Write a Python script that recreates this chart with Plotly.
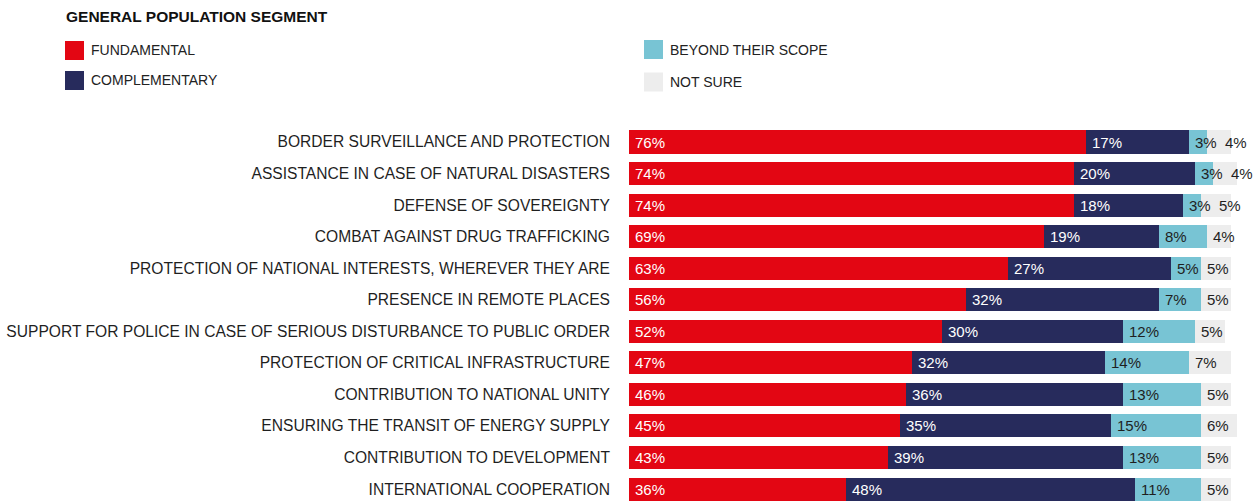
import plotly.graph_objects as go

# ---- data -------------------------------------------------------------
categories = [
    "BORDER SURVEILLANCE AND PROTECTION",
    "ASSISTANCE IN CASE OF NATURAL DISASTERS",
    "DEFENSE OF SOVEREIGNTY",
    "COMBAT AGAINST DRUG TRAFFICKING",
    "PROTECTION OF NATIONAL INTERESTS, WHEREVER THEY ARE",
    "PRESENCE IN REMOTE PLACES",
    "SUPPORT FOR POLICE IN CASE OF SERIOUS DISTURBANCE TO PUBLIC ORDER",
    "PROTECTION OF CRITICAL INFRASTRUCTURE",
    "CONTRIBUTION TO NATIONAL UNITY",
    "ENSURING THE TRANSIT OF ENERGY SUPPLY",
    "CONTRIBUTION TO DEVELOPMENT",
    "INTERNATIONAL COOPERATION",
]
fundamental = [76, 74, 74, 69, 63, 56, 52, 47, 46, 45, 43, 36]
complementary = [17, 20, 18, 19, 27, 32, 30, 32, 36, 35, 39, 48]
beyond_scope = [3, 3, 3, 8, 5, 7, 12, 14, 13, 15, 13, 11]
not_sure = [4, 4, 5, 4, 5, 5, 5, 7, 5, 6, 5, 5]

series_names = ["FUNDAMENTAL", "COMPLEMENTARY", "BEYOND THEIR SCOPE", "NOT SURE"]
series_values = [fundamental, complementary, beyond_scope, not_sure]
series_colors = ["#E30613", "#272B5C", "#78C4D4", "#EDEDED"]
label_colors = ["white", "white", "#1F1F1F", "#1F1F1F"]

title_text = "GENERAL POPULATION SEGMENT"

# ---- layout geometry --------------------------------------------------
W, H = 1255, 502
ML, MR, MT, MB = 629, 0, 126, 0
PLOT_W = W - ML - MR
PLOT_H = H - MT - MB
XMAX = 104.0
PX_PER_UNIT = PLOT_W / XMAX
ROW_PX = 31.55
Y_TOP = -16 / ROW_PX
Y_BOTTOM = Y_TOP + PLOT_H / ROW_PX

FONT = "Liberation Sans, Arial, sans-serif"
CAT_FS = 15.6
VAL_FS = 15
LEG_FS = 14
TEXT_PAD = 4
LABEL_GAP = 9


def px_x(px):
    return (px - ML) / PLOT_W


def px_y(py):
    return (H - MB - py) / PLOT_H


def text_width(s, fs=VAL_FS):
    w = 0.0
    for ch in s:
        w += 0.889 if ch == "%" else 0.556
    return w * fs


fig = go.Figure()

# stacked bars, value labels drawn as annotations so they can avoid collisions
for name, vals, color in zip(series_names, series_values, series_colors):
    fig.add_trace(go.Bar(
        y=categories, x=vals, name=name, orientation="h",
        marker=dict(color=color, line=dict(width=0)),
        hoverinfo="x+name", showlegend=False,
    ))

annotations = []
for i, cat in enumerate(categories):
    start = 0.0
    prev_end_px = -1e9
    for vals, tcolor in zip(series_values, label_colors):
        v = vals[i]
        label = f"{v}%"
        seg_px = start * PX_PER_UNIT
        pos_px = max(seg_px + TEXT_PAD, prev_end_px + LABEL_GAP)
        annotations.append(dict(
            x=start, y=cat, xref="x", yref="y",
            text=label, showarrow=False, xanchor="left", yanchor="middle",
            xshift=pos_px - seg_px,
            font=dict(family=FONT, size=VAL_FS, color=tcolor),
        ))
        prev_end_px = pos_px + text_width(label)
        start += v

# title
annotations.append(dict(
    x=px_x(64), y=px_y(17), xref="paper", yref="paper",
    text=f"<b>{title_text}</b>", showarrow=False,
    xanchor="left", yanchor="middle",
    font=dict(family=FONT, size=15.5, color="#111111"),
))

# legend: two columns of colour squares with names
legend_pos = [(65, 50.5), (65, 80.5), (644, 49.5), (644, 82)]
shapes = []
for (lx, ly), name, color in zip(legend_pos, series_names, series_colors):
    shapes.append(dict(
        type="rect", xref="paper", yref="paper",
        x0=px_x(lx), x1=px_x(lx + 19), y0=px_y(ly - 9.5), y1=px_y(ly + 9.5),
        fillcolor=color, line=dict(width=0),
    ))
    annotations.append(dict(
        x=px_x(lx + 24), y=px_y(ly), xref="paper", yref="paper",
        text=name, showarrow=False, xanchor="left", yanchor="middle",
        font=dict(family=FONT, size=LEG_FS, color="#222222"),
    ))

fig.update_layout(
    width=W, height=H,
    margin=dict(l=ML, r=MR, t=MT, b=MB, pad=0),
    barmode="stack", bargap=0.27,
    plot_bgcolor="white", paper_bgcolor="white",
    showlegend=False,
    annotations=annotations, shapes=shapes,
    font=dict(family=FONT, size=CAT_FS, color="#222222"),
    xaxis=dict(range=[0, XMAX], visible=False, fixedrange=True),
    yaxis=dict(
        type="category", categoryorder="array", categoryarray=categories,
        range=[Y_BOTTOM, Y_TOP], automargin=False,
        showgrid=False, zeroline=False, showline=False, ticks="",
        ticklabelstandoff=18,
        tickfont=dict(family=FONT, size=CAT_FS, color="#1F1F1F"),
    ),
)

fig.write_html("out.html")
